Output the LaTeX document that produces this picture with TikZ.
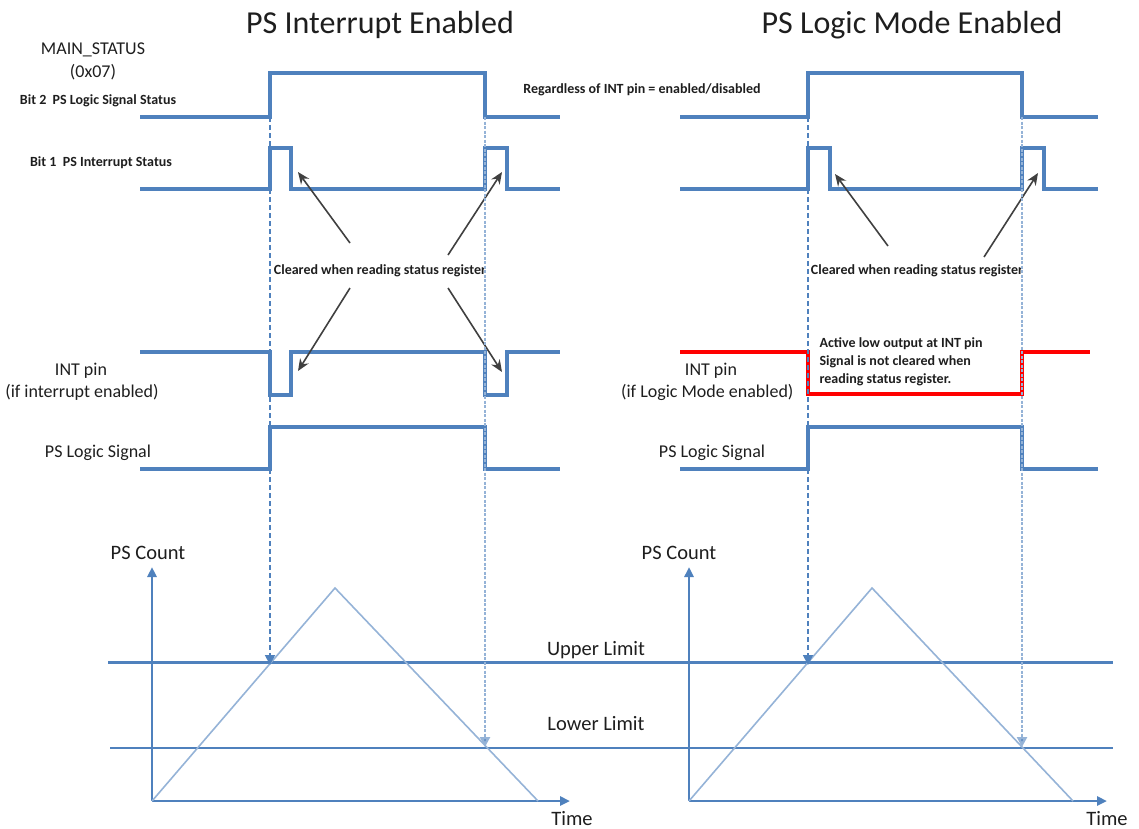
\documentclass[tikz,border=0pt]{standalone}
\usepackage{fontspec}
\setmainfont{Carlito}
\usetikzlibrary{arrows.meta}
\definecolor{sigblue}{RGB}{79,129,189}
\definecolor{lightblue}{RGB}{149,179,215}
\definecolor{arrgray}{RGB}{64,64,64}
\definecolor{txtdark}{RGB}{30,30,30}
\begin{document}
\begin{tikzpicture}[x=1pt,y=-1pt,
    sig/.style={draw=sigblue, line width=3.1pt},
    redsig/.style={draw=red, line width=3.2pt},
    axis/.style={draw=sigblue, line width=2.6pt, -{Triangle[length=10pt,width=9pt]}},
    ramp/.style={draw=lightblue, line width=1.6pt},
    guide/.style={draw=sigblue, line width=1.8pt, dash pattern=on 5pt off 3pt, -{Triangle[length=10pt,width=10pt]}},
    guidedot/.style={draw=lightblue, line width=2.4pt, dash pattern=on 3pt off 1.5pt, -{Triangle[length=10pt,width=10pt,fill=sigblue]}},
    callout/.style={draw=arrgray, line width=1.6pt, -{Stealth[length=12pt,width=10pt]}},
    title/.style={font=\fontsize{32}{36}\selectfont, text=txtdark},
    big/.style={font=\fontsize{20.5}{24}\selectfont, text=txtdark},
    lbl/.style={font=\fontsize{18}{21}\selectfont, text=txtdark},
    small/.style={font=\bfseries\fontsize{14}{17}\selectfont, text=txtdark}]
\useasboundingbox (0,0) rectangle (1139,828);

% titles
\node[title] (ttlint) at (380,25) {PS Interrupt Enabled};
\node[title] (ttllog) at (912,25) {PS Logic Mode Enabled};

% register labels
\node[lbl] (mainst) at (93,50) {MAIN\_STATUS};
\node[lbl] (regaddr) at (93,72) {(0x07)};
\node[small] (bittwo) at (98,101) {Bit 2\ \ PS Logic Signal Status};
\node[small] (bitone) at (101,163) {Bit 1\ \ PS Interrupt Status};
\node[small] (regless) at (642,90) {Regardless of INT pin = enabled/disabled};

% left panel signals
\draw[sig] (140,117) -- (270,117) -- (270,73) -- (485,73) -- (485,117) -- (560,117);
\draw[sig] (140,189) -- (270,189) -- (270,148) -- (291,148) -- (291,189) -- (485,189) -- (485,148) -- (507,148) -- (507,189) -- (560,189);
\draw[sig] (140,352) -- (270,352) -- (270,395) -- (291,395) -- (291,352) -- (485,352) -- (485,395) -- (507,395) -- (507,352) -- (560,352);
\draw[sig] (140,469) -- (270,469) -- (270,427) -- (485,427) -- (485,469) -- (560,469);

\node[lbl] (intpinA) at (81,371) {INT pin};
\node[lbl] (intenA) at (82,392) {(if interrupt enabled)};
\node[lbl] (logicA) at (98,453) {PS Logic Signal};

% right panel signals
\draw[sig] (680,117) -- (808,117) -- (808,73) -- (1022,73) -- (1022,117) -- (1098,117);
\draw[sig] (680,189) -- (808,189) -- (808,148) -- (830,148) -- (830,189) -- (1022,189) -- (1022,148) -- (1044,148) -- (1044,189) -- (1098,189);
\draw[redsig] (680,352) -- (808,352) -- (808,394) -- (1022,394) -- (1022,352) -- (1090,352);
\draw[sig] (680,469) -- (808,469) -- (808,427) -- (1022,427) -- (1022,469) -- (1098,469);

\node[lbl] (intpinB) at (711,371) {INT pin};
\node[lbl, anchor=east] (intenB) at (797,392) {(if Logic Mode enabled)};
\node[lbl] (logicB) at (712,453) {PS Logic Signal};
\node[small, anchor=north west, align=left, font=\bfseries\fontsize{14}{18}\selectfont] (actlow) at (816,334)
  {Active low output at INT pin\\Signal is not cleared when\\reading status register.};

% cleared notes and arrows
\node[small] (clrA) at (380,271) {Cleared when reading status register};
\node[small] (clrB) at (917,271) {Cleared when reading status register};
\coordinate (tA1) at (350,243); \coordinate (hA1) at (298,172);
\coordinate (tA2) at (448,255); \coordinate (hA2) at (502,172);
\coordinate (tA3) at (350,288); \coordinate (hA3) at (298,371);
\coordinate (tA4) at (448,288); \coordinate (hA4) at (502,372);
\coordinate (tB1) at (888,246); \coordinate (hB1) at (835,174);
\coordinate (tB2) at (984,257); \coordinate (hB2) at (1038,173);
\draw[callout] (tA1) -- (hA1);
\draw[callout] (tA2) -- (hA2);
\draw[callout] (tA3) -- (hA3);
\draw[callout] (tA4) -- (hA4);
\draw[callout] (tB1) -- (hB1);
\draw[callout] (tB2) -- (hB2);

% limits
\draw[draw=sigblue, line width=3pt] (108,662) coordinate (upL) -- (1113,662) coordinate (upR);
\draw[draw=sigblue, line width=2pt] (110,748) coordinate (loL) -- (1113,748) coordinate (loR);
\node[big] (upper) at (596,650) {Upper Limit};
\node[big] (lower) at (596,724) {Lower Limit};

% count plots
\coordinate (oA) at (152,801);
\coordinate (oB) at (689,801);
\draw[axis] (oA) -- (152,567);
\draw[axis] (oA) -- (570,801);
\draw[ramp] (oA) -- (335,588) -- (538,801);
\draw[axis] (oB) -- (689,567);
\draw[axis] (oB) -- (1107,801);
\draw[ramp] (oB) -- (872,588) -- (1073,801);
\node[big] (cntA) at (148,553) {PS Count};
\node[big] (cntB) at (679,553) {PS Count};
\node[big, anchor=base, inner sep=0pt] (timeA) at (572,825) {Time};
\node[big, anchor=base, inner sep=0pt] (timeB) at (1107,825) {Time};

% guides from edges to limits
\draw[guide] (270,117) -- (270,665);
\draw[guidedot] (485,117) -- (485,747);
\draw[guide] (808,117) -- (808,665);
\draw[guidedot] (1022,117) -- (1022,747);
\end{tikzpicture}
\end{document}
